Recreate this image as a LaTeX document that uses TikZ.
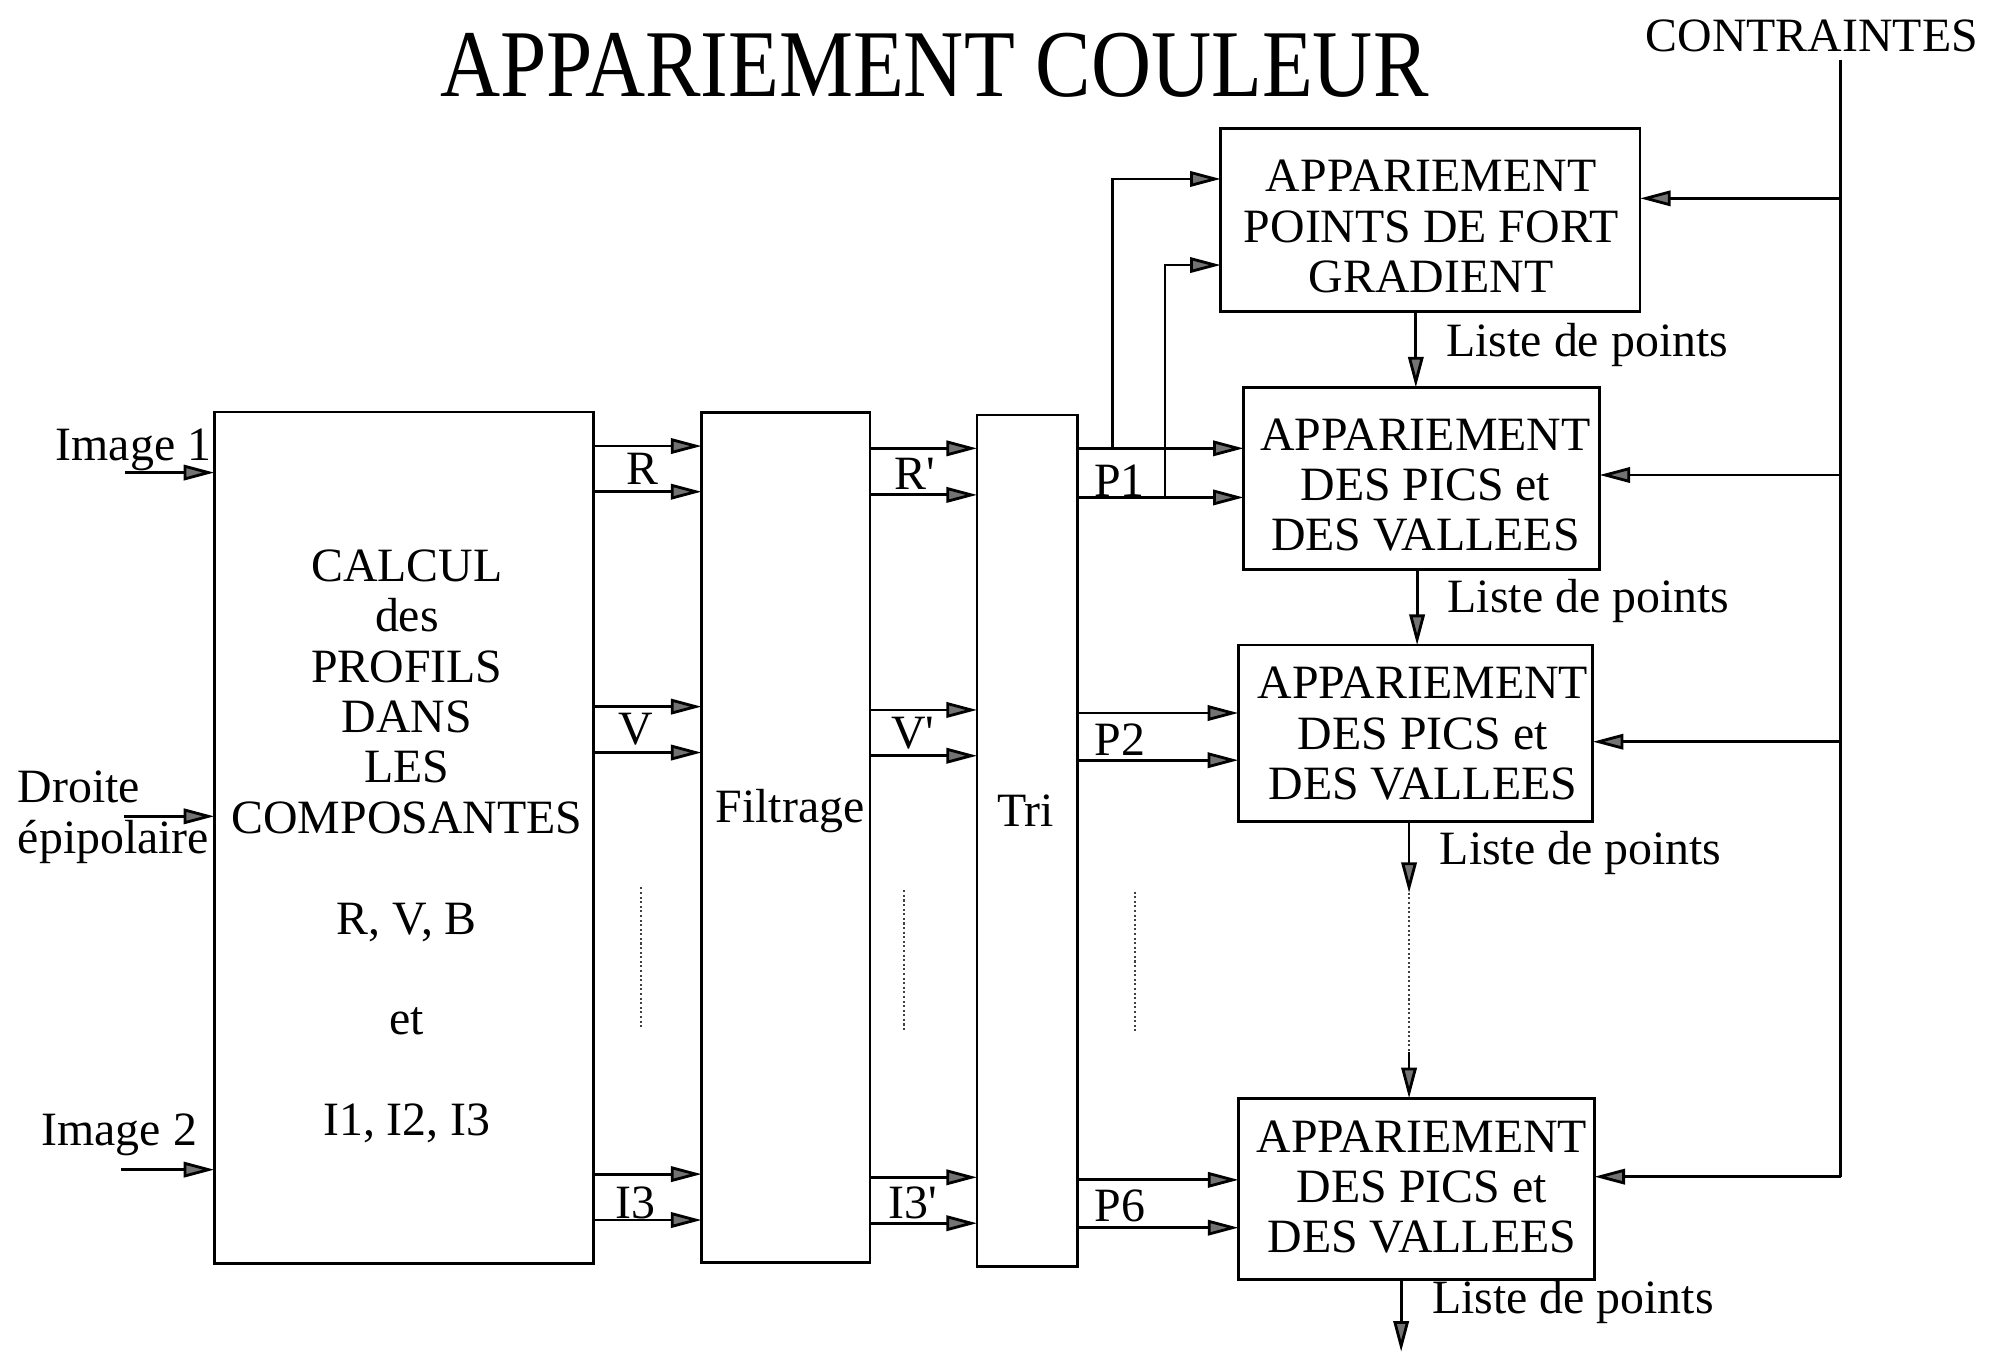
\documentclass[tikz,border=0pt]{standalone}
\usepackage{fontspec}
\setmainfont{Liberation Serif}
\usepackage{graphicx}
\usetikzlibrary{arrows.meta}
\begin{document}
\begin{tikzpicture}[x=0.5pt,y=-0.5pt,
  every node/.style={font=\fontsize{18.75}{19.75}\selectfont, inner sep=0pt, outer sep=0pt},
  box/.style={draw, line width=1.1pt},
  ln/.style={line width=1.1pt},
  arr/.style={ln, -{Triangle[length=12pt,width=6pt,fill=black!55]}},
  dots/.style={line width=0.8pt, densely dotted, black!75},
  txt/.style={align=center, anchor=north},
  lab/.style={anchor=base},
  labw/.style={anchor=base west}
]
\useasboundingbox (0,0) rectangle (1568,1065);

% ---- boxes
\node[box, minimum width=148.5pt, minimum height=333.75pt] (calc) at (316.5,656.75) {};
\node[box, minimum width=66pt, minimum height=333.25pt] (filt) at (616,656.75) {};
\node[box, minimum width=39.5pt, minimum height=333.8pt] (tri) at (805.5,659.2) {};
\node[box, minimum width=164.4pt, minimum height=72pt] (grad) at (1121.4,172.5) {};
\node[box, minimum width=139.5pt, minimum height=71.4pt] (pv1) at (1114.5,375.1) {};
\node[box, minimum width=139pt, minimum height=69.25pt] (pv2) at (1109.8,575) {};
\node[box, minimum width=139.5pt, minimum height=71pt] (pv6) at (1110.5,932) {};

% ---- box texts
\node[txt] (tcalc) at (319,431) {CALCUL\\des\\PROFILS\\DANS\\LES\\COMPOSANTES\\[19.75pt]R, V, B\\[19.75pt]et\\[19.75pt]I1, I2, I3};
\node[lab] (tfilt) at (619.5,645) {Filtrage};
\node[lab] (ttri) at (804,648) {Tri};
\node[txt] (tgrad) at (1122,125.7) {APPARIEMENT\\POINTS DE FORT\\GRADIENT};
\node[txt] (tpv1) at (1117.5,328.2) {APPARIEMENT\\DES PICS et\\DES VALLEES};
\node[txt] (tpv2) at (1115.5,523) {APPARIEMENT\\DES PICS et\\DES VALLEES};
\node[txt] (tpv6) at (1114.7,878.4) {APPARIEMENT\\DES PICS et\\DES VALLEES};

% ---- titles
\node[lab, font=\fontsize{37.5}{40}\selectfont] (title) at (732.5,75.8) {\resizebox{387.5pt}{\height}{APPARIEMENT COULEUR}};
\node[lab] (ctr) at (1420.4,40.5) {CONTRAINTES};

% ---- inputs
\coordinate (in1) at (98,370.5);
\coordinate (in2) at (97,640);
\coordinate (in3) at (95,917);
\draw[arr] (in1) -- (in1 -| calc.west);
\draw[arr] (in2) -- (in2 -| calc.west);
\draw[arr] (in3) -- (in3 -| calc.west);
\node[lab] (lim1) at (104.6,361) {Image 1};
\node[labw] (ldr) at (14,629) {Droite};
\node[labw] (lep) at (14,669) {épipolaire};
\node[lab] (lim2) at (93.5,898) {Image 2};

% ---- channel rows
\foreach \n/\y in {a1/349.7,a2/385.5,a3/554,a4/590,a5/920.5,a6/956.5,
                   b1/351.5,b2/388,b3/556.6,b4/592.5,b5/923,b6/959,
                   c1/351.5,c2/390,c3/559,c4/596,c5/925,c6/962.5}
  \coordinate (\n) at (0,\y);
\foreach \n in {a1,a2,a3,a4,a5,a6}
  \draw[arr] (calc.east |- \n) -- (filt.west |- \n);
\foreach \n in {b1,b2,b3,b4,b5,b6}
  \draw[arr] (filt.east |- \n) -- (tri.west |- \n);
\draw[arr] (tri.east |- c1) -- (pv1.west |- c1);
\draw[arr] (tri.east |- c2) -- (pv1.west |- c2);
\draw[arr] (tri.east |- c3) -- (pv2.west |- c3);
\draw[arr] (tri.east |- c4) -- (pv2.west |- c4);
\draw[arr] (tri.east |- c5) -- (pv6.west |- c5);
\draw[arr] (tri.east |- c6) -- (pv6.west |- c6);

% ---- branches to gradient box
\coordinate (br1) at (872,351.5);
\coordinate (br2) at (913.4,390);
\coordinate (g1) at (0,140.3);
\coordinate (g2) at (0,207.8);
\draw[arr] (br1) |- (grad.west |- g1);
\draw[arr] (br2) |- (grad.west |- g2);

% ---- row labels
\node[lab] (lR) at (503.8,380) {R};
\node[lab] (lV) at (498.5,584) {V};
\node[lab] (lI) at (498.5,955) {I3};
\node[lab] (lRp) at (717,384) {R\textquotesingle};
\node[lab] (lVp) at (715.6,586.6) {V\textquotesingle};
\node[lab] (lIp) at (715.6,955) {I3\textquotesingle};
\node[lab] (lP1) at (877.5,389) {P1};
\node[lab] (lP2) at (878,592) {P2};
\node[lab] (lP6) at (878,958) {P6};

% ---- dotted continuation marks
\coordinate (d1t) at (502.7,695.7); \coordinate (d1b) at (502.7,806);
\coordinate (d2t) at (709,698);     \coordinate (d2b) at (709,809);
\coordinate (d3t) at (890,699);     \coordinate (d3b) at (890,810);
\draw[dots] (d1t) -- (d1b);
\draw[dots] (d2t) -- (d2b);
\draw[dots] (d3t) -- (d3b);

% ---- lists of points
\coordinate (l1) at (1110,0);
\coordinate (l2) at (1111,0);
\coordinate (m1) at (1104.7,700);
\coordinate (m2) at (1104.7,825);
\coordinate (out) at (1098.5,1059.7);
\draw[arr] (grad.south -| l1) -- (pv1.north -| l1);
\draw[arr] (pv1.south -| l2) -- (pv2.north -| l2);
\draw[arr] (pv2.south -| m1) -- (m1);
\draw[dots] (m1) -- (m2);
\draw[arr] (m2) -- (pv6.north -| m2);
\draw[arr] (pv6.south -| out) -- (out);
\node[labw] (ls1) at (1134,279.6) {Liste de points};
\node[labw] (ls2) at (1135,480) {Liste de points};
\node[labw] (ls3) at (1128.8,678) {Liste de points};
\node[labw] (ls4) at (1122.7,1029.7) {Liste de points};

% ---- constraints
\coordinate (k) at (1443,47);
\coordinate (kc) at (1443,922.5);
\coordinate (kg) at (1443,155.5);
\coordinate (k1) at (1443,372.4);
\coordinate (k2) at (1443,581.5);
\draw[ln] (k) -- (kc);
\draw[arr] (kc) -- (kc -| pv6.east);
\draw[arr] (kg) -- (kg -| grad.east);
\draw[arr] (k1) -- (k1 -| pv1.east);
\draw[arr] (k2) -- (k2 -| pv2.east);
\end{tikzpicture}
\end{document}
